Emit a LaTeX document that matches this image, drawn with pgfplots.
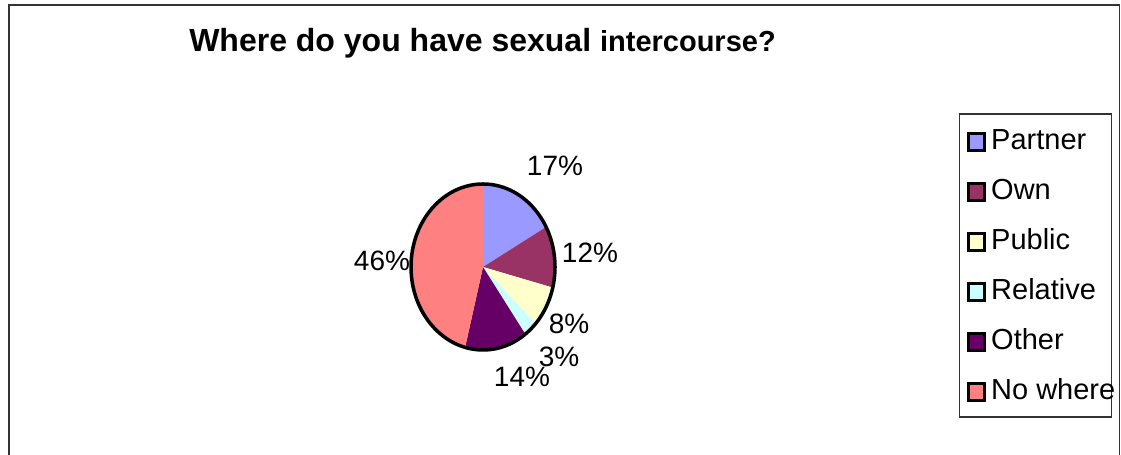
\documentclass[border=0pt]{standalone}
\usepackage{pgfplots}
\pgfplotsset{compat=1.18}
\usepackage{pgfplotstable}
\usepackage{fontspec}
\setmainfont{Liberation Sans}
\definecolor{pPartner}{HTML}{9999FF}
\definecolor{pOwn}{HTML}{993366}
\definecolor{pPublic}{HTML}{FFFFCC}
\definecolor{pRelative}{HTML}{CCFFFF}
\definecolor{pOther}{HTML}{660066}
\definecolor{pNowhere}{HTML}{FF8080}
\pgfplotstableread{
name value col
Partner 17 pPartner
Own 12 pOwn
Public 8 pPublic
Relative 3 pRelative
Other 14 pOther
Nowhere 46 pNowhere
}\piedata
\newcommand{\lbl}{\fontsize{28bp}{33bp}\selectfont}
\begin{document}
\begin{tikzpicture}[x=1bp,y=1bp]
\useasboundingbox (0,0) rectangle (1121,455);
\begin{scope}
\clip (0,0) rectangle (1121,455);
\draw[line width=1.5bp, black!80] (8.75,-5) -- (8.75,449.75) -- (1119.5,449.75) -- (1119.5,-5);
\end{scope}
% title
\node[anchor=base, inner sep=0] at (482.5,403) {\bfseries\fontsize{32bp}{38bp}\selectfont Where do you have sexual {\fontsize{29bp}{34bp}\selectfont intercourse?}};
\begin{axis}[at={(483bp,188bp)}, anchor=center, scale only axis,
  width=144bp, height=166bp, xmin=-1, xmax=1, ymin=-1, ymax=1,
  hide axis, clip=false]
\pgfplotsextra{
  \xdef\angA{90}
  \foreach \i in {0,...,5}{
    \pgfplotstablegetelem{\i}{value}\of\piedata \let\sliceval\pgfplotsretval
    \pgfplotstablegetelem{\i}{col}\of\piedata \let\slicecol\pgfplotsretval
    \pgfmathsetmacro{\angB}{\angA-3.6*\sliceval}
    \fill[\slicecol] (axis cs:0,0) -- (axis cs:{cos(\angA)},{sin(\angA)})
      arc[start angle=\angA, end angle=\angB, x radius=72bp, y radius=83bp] -- cycle;
    \xdef\angA{\angB}
  }
  \draw[line width=3.5bp, black] (axis cs:0,1) arc[start angle=90, end angle=-270, x radius=72bp, y radius=83bp] -- cycle;
}
\end{axis}
% data labels
\node[inner sep=0] at (555,289) {\lbl 17\%};
\node[inner sep=0] at (590,202) {\lbl 12\%};
\node[inner sep=0] at (569,131) {\lbl 8\%};
\node[inner sep=0] at (522,78) {\lbl 14\%};
\node[inner sep=0] at (559,98) {\lbl 3\%};
\node[inner sep=0] at (382,194) {\lbl 46\%};
% legend
\draw[line width=1.2bp, black!80] (959.5,341) rectangle (1111.5,38);
\foreach \c/\t [count=\k from 0] in {pPartner/Partner, pOwn/Own, pPublic/Public, pRelative/Relative, pOther/Other, pNowhere/No where}{
  \pgfmathsetmacro{\cy}{455-142-50*\k}
  \draw[line width=2.5bp, black, fill=\c] (968.5,\cy-8.5) rectangle (984.5,\cy+8.5);
  \node[anchor=base west, inner sep=0] at (991,\cy-8) {\fontsize{29bp}{34bp}\selectfont \t};
}
\end{tikzpicture}
\end{document}
